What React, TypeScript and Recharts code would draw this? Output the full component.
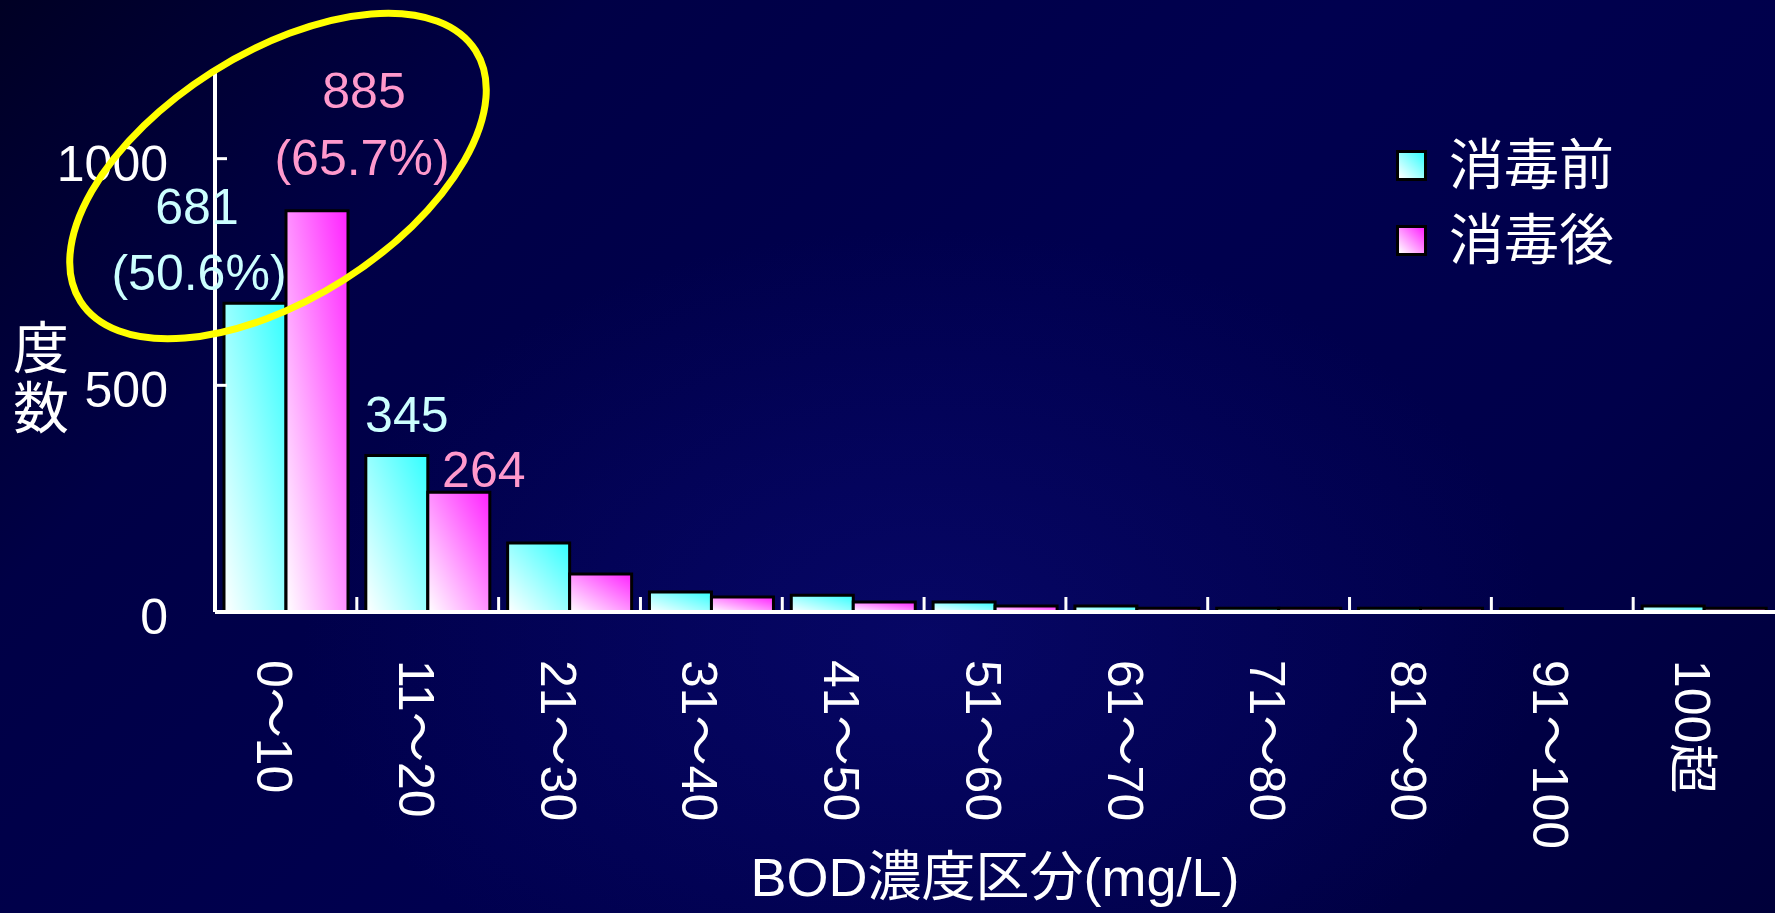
import React from 'react';
import { BarChart, Bar, XAxis, YAxis, Legend, LabelList } from 'recharts';

const categories = ['0～10', '11～20', '21～30', '31～40', '41～50', '51～60', '61～70', '71～80', '81～90', '91～100', '100超'];
const beforeCounts = [681, 345, 152, 44, 37, 22, 13, 8, 8, 7, 13];
const afterCounts = [885, 264, 84, 33, 22, 13, 8, 8, 8, 0, 8];
const beforeShare = ['50.6%'];
const afterShare = ['65.7%'];
const yTicks = [0, 500, 1000];
const seriesNames = ['消毒前', '消毒後'];

const data = categories.map((name, i) => ({ name, before: beforeCounts[i], after: afterCounts[i] }));

const W = 1775;
const H = 913;
const PLOT_LEFT = 215;
const PLOT_TOP = 68;
const PLOT_BOTTOM = 612;
const BAND = (W - PLOT_LEFT) / categories.length;
const FONT = "'Liberation Sans', 'Noto Sans CJK JP', sans-serif";

// hand-placed annotation offsets (relative to bar centre / top)
const beforeLabelPos = [
  [{ dx: -58, dy: -79 }, { dx: -56, dy: -13 }],
  [{ dx: 10, dy: -24 }],
];
const afterLabelPos = [
  [{ dx: 47, dy: -103 }, { dx: 45, dy: -36 }],
  [{ dx: 25, dy: -5 }],
];

const makeLabel = (shares: string[], pos: { dx: number; dy: number }[][], color: string) => (props: any) => {
  const { x, y, width, index, value } = props;
  const p = pos[index];
  if (!p) return null;
  const lines = [String(value)];
  if (shares[index]) lines.push(`(${shares[index]})`);
  const cx = x + width / 2;
  return (
    <g>
      {lines.map((t, k) => (
        <text key={k} x={cx + p[k].dx} y={y + p[k].dy} textAnchor="middle" fill={color} fontSize={50}>
          {t}
        </text>
      ))}
    </g>
  );
};

const YTick = (props: any) => {
  const { x, y, payload } = props;
  return (
    <g>
      {payload.value > 0 && <line x1={x} x2={x + 12} y1={y} y2={y} stroke="#fff" strokeWidth={3} />}
      <text x={x - 47} y={y + 5} textAnchor="end" dominantBaseline="central" fill="#fff" fontSize={50}>
        {payload.value}
      </text>
    </g>
  );
};

const XTick = (props: any) => {
  const { x, y, payload, index } = props;
  const tx = x - 12;
  const ty = y + 48;
  return (
    <g>
      {index > 0 && <line x1={x - BAND / 2} x2={x - BAND / 2} y1={y} y2={y - 15} stroke="#fff" strokeWidth={3} />}
      <text x={tx} y={ty} transform={`rotate(90, ${tx}, ${ty})`} textAnchor="start" dominantBaseline="central" fill="#fff" fontSize={50}>
        {payload.value}
      </text>
    </g>
  );
};

const legendFills = [
  'linear-gradient(45deg, #ffffff, #33ffff)',
  'linear-gradient(45deg, #ffffff, #ff22ff)',
];

const LegendContent = () => (
  <div style={{ fontFamily: FONT }}>
    {seriesNames.map((n, i) => (
      <div key={n} style={{ display: 'flex', alignItems: 'center', height: 75 }}>
        <div style={{ width: 31, height: 31, boxSizing: 'border-box', border: '3px solid #000', background: legendFills[i] }} />
        <span style={{ marginLeft: 22, color: '#fff', fontSize: 55, lineHeight: '75px' }}>{n}</span>
      </div>
    ))}
  </div>
);

export default function App() {
  return (
    <div
      style={{
        position: 'fixed',
        left: 0,
        top: 0,
        width: W,
        height: H,
        overflow: 'hidden',
        fontFamily: FONT,
        background:
          'radial-gradient(ellipse 35% 45% at 52% 70%, rgba(12,12,120,0.55) 0%, rgba(12,12,120,0) 100%), linear-gradient(135deg, #000024 0%, #000046 22%, #00004f 50%, #00004a 75%, #00003a 100%)',
      }}
    >
      <BarChart
        width={W}
        height={H}
        data={data}
        margin={{ top: PLOT_TOP, right: 0, bottom: 0, left: 0 }}
        barCategoryGap={9}
        barGap={0}
      >
        <defs>
          <linearGradient id="gradBefore" x1="0" y1="1" x2="1" y2="0">
            <stop offset="0%" stopColor="#ffffff" />
            <stop offset="100%" stopColor="#33ffff" />
          </linearGradient>
          <linearGradient id="gradAfter" x1="0" y1="1" x2="1" y2="0">
            <stop offset="0%" stopColor="#ffffff" />
            <stop offset="100%" stopColor="#ff22ff" />
          </linearGradient>
        </defs>
        <XAxis
          dataKey="name"
          interval={0}
          height={H - PLOT_BOTTOM}
          axisLine={{ stroke: '#fff', strokeWidth: 4 }}
          tickLine={false}
          tickSize={0}
          tickMargin={0}
          tick={<XTick />}
          label={{
            content: (p: any) => {
              const vb = p.viewBox;
              return (
                <text x={vb.x + vb.width / 2} y={896} textAnchor="middle" fill="#fff" fontSize={54}>
                  BOD濃度区分(mg/L)
                </text>
              );
            },
          }}
        />
        <YAxis
          domain={[0, 1200]}
          ticks={yTicks}
          interval={0}
          width={PLOT_LEFT}
          axisLine={{ stroke: '#fff', strokeWidth: 4 }}
          tickLine={false}
          tickSize={0}
          tickMargin={0}
          tick={<YTick />}
          label={{
            content: () => (
              <g>
                <text x={41} y={348} textAnchor="middle" dominantBaseline="central" fill="#fff" fontSize={56}>度</text>
                <text x={41} y={408} textAnchor="middle" dominantBaseline="central" fill="#fff" fontSize={56}>数</text>
              </g>
            ),
          }}
        />
        <Legend
          layout="vertical"
          align="center"
          verticalAlign="middle"
          content={<LegendContent />}
          wrapperStyle={{ left: 1396, top: 128, width: 360 }}
        />
        <Bar dataKey="before" name={seriesNames[0]} fill="url(#gradBefore)" stroke="#000" strokeWidth={3} isAnimationActive={false}>
          <LabelList dataKey="before" content={makeLabel(beforeShare, beforeLabelPos, '#ccffff')} />
        </Bar>
        <Bar dataKey="after" name={seriesNames[1]} fill="url(#gradAfter)" stroke="#000" strokeWidth={3} isAnimationActive={false}>
          <LabelList dataKey="after" content={makeLabel(afterShare, afterLabelPos, '#ff99cc')} />
        </Bar>
      </BarChart>
      <svg width={W} height={H} style={{ position: 'absolute', left: 0, top: 0, pointerEvents: 'none' }}>
        <ellipse cx={278} cy={176} rx={234} ry={123} transform="rotate(-32.4, 278, 176)" fill="none" stroke="#ffff00" strokeWidth={7} />
      </svg>
    </div>
  );
}
